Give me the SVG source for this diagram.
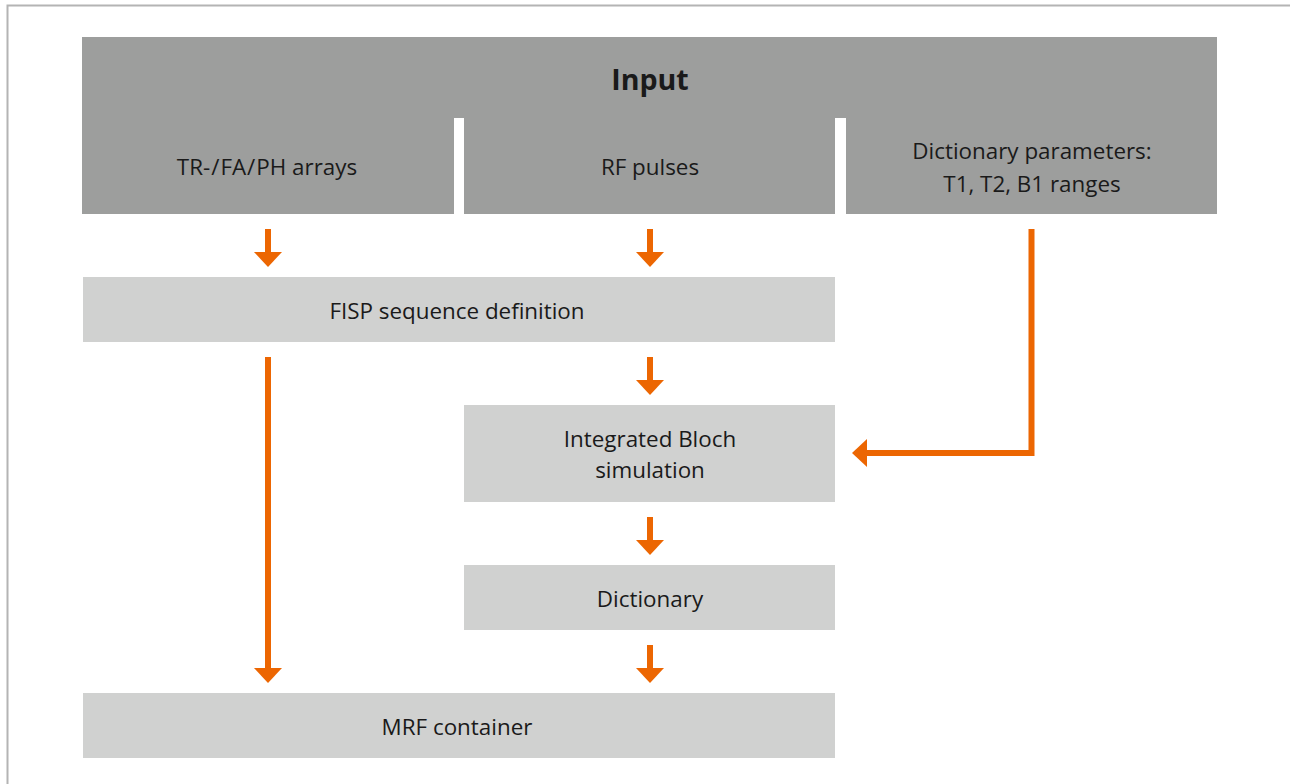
<svg xmlns="http://www.w3.org/2000/svg" width="1290" height="784" viewBox="0 0 1290 784">
<style>
.dark{fill:#9d9e9d}
.light{fill:#d0d1d0}
.t{font-family:"Open Sans","Noto Sans","Liberation Sans",sans-serif;font-size:22.4px;fill:#1a1a1a;text-anchor:middle}
.b{font-weight:bold;font-size:28.6px}
.c{fill:none;stroke:#ec6602;stroke-width:6}
</style>
<defs>
<marker id="ah" viewBox="0 0 15 28" refX="0" refY="14" markerWidth="15" markerHeight="28" markerUnits="userSpaceOnUse" orient="auto">
<path d="M0,0 L15,14 L0,28 Z" fill="#ec6602"/>
</marker>
</defs>
<path d="M7.5,784 V5.5 H1290" fill="none" stroke="#b4b4b4" stroke-width="2"/>
<g id="input">
<rect class="dark" x="82" y="37" width="1135" height="81"/>
<text class="t b" x="650" y="90">Input</text>
</g>
<g id="arrays">
<rect class="dark" x="82" y="117" width="372" height="97"/>
<text class="t" x="267" y="175">TR-<tspan dx="1">/</tspan><tspan dx="1">FA</tspan><tspan dx="1">/</tspan><tspan dx="1">PH arrays</tspan></text>
</g>
<g id="rfpulses">
<rect class="dark" x="464" y="117" width="371" height="97"/>
<text class="t" x="650" y="175">RF pulses</text>
</g>
<g id="dictparams">
<rect class="dark" x="846" y="117" width="371" height="97"/>
<text class="t" x="1032" y="159">Dictionary parameters:</text>
<text class="t" x="1032" y="192">T1, T2, B1 ranges</text>
</g>
<g id="fisp">
<rect class="light" x="83" y="277" width="752" height="65"/>
<text class="t" x="457" y="319">FISP sequence definition</text>
</g>
<g id="bloch">
<rect class="light" x="464" y="405" width="371" height="97"/>
<text class="t" x="650" y="447">Integrated Bloch</text>
<text class="t" x="650" y="478">simulation</text>
</g>
<g id="dictionary">
<rect class="light" x="464" y="565" width="371" height="65"/>
<text class="t" x="650" y="607">Dictionary</text>
</g>
<g id="mrf">
<rect class="light" x="83" y="693" width="752" height="65"/>
<text class="t" x="457" y="735">MRF container</text>
</g>
<g id="connectors">
<path class="c" d="M268,229 V252" marker-end="url(#ah)"/>
<path class="c" d="M650,229 V252" marker-end="url(#ah)"/>
<path class="c" d="M650,357 V380" marker-end="url(#ah)"/>
<path class="c" d="M650,517 V540" marker-end="url(#ah)"/>
<path class="c" d="M650,645 V668" marker-end="url(#ah)"/>
<path class="c" d="M268,357 V668" marker-end="url(#ah)"/>
<path class="c" d="M1031.5,229 V453 H867" stroke-width="5" marker-end="url(#ah)"/>
</g>
</svg>
